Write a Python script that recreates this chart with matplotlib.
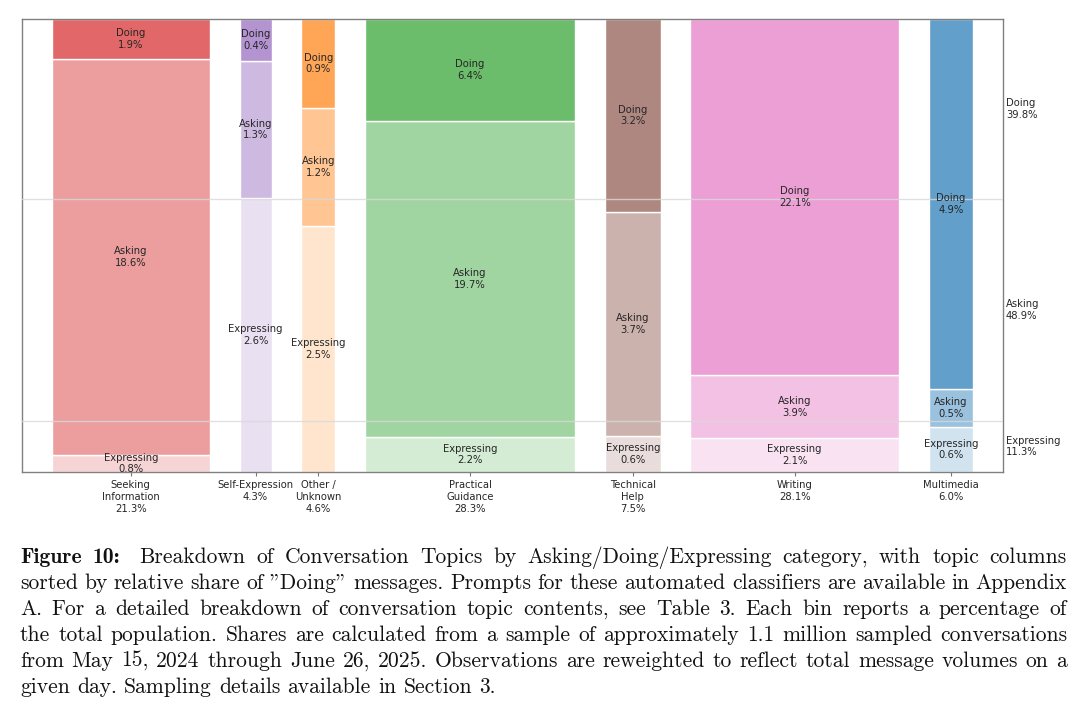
import matplotlib
matplotlib.use('Agg')
import matplotlib.pyplot as plt
from matplotlib.colors import to_rgba

# column order = sorted by relative share of "Doing"
topics = ['Seeking\nInformation', 'Self-Expression', 'Other /\nUnknown',
          'Practical\nGuidance', 'Technical\nHelp', 'Writing', 'Multimedia']
colors = ['tab:red', 'tab:purple', 'tab:orange', 'tab:green',
          'tab:brown', 'tab:pink', 'tab:blue']

# share of the total population (%), per bin
expressing = [0.8, 2.6, 2.5, 2.2, 0.6, 2.1, 0.6]
asking = [18.6, 1.3, 1.2, 19.7, 3.7, 3.9, 0.5]
doing = [1.9, 0.4, 0.9, 6.4, 3.2, 22.1, 4.9]
totals = [21.3, 4.3, 4.6, 28.3, 7.5, 28.1, 6.0]

overall_labels = ['Expressing', 'Asking', 'Doing']
overall_shares = [11.3, 48.9, 39.8]

caption_lines = [
    'Figure 10: Breakdown of Conversation Topics by Asking/Doing/Expressing category, with topic columns',
    'sorted by relative share of "Doing" messages. Prompts for these automated classifiers are available in Appendix',
    'A. For a detailed breakdown of conversation topic contents, see Table 3. Each bin reports a percentage of',
    'the total population. Shares are calculated from a sample of approximately 1.1 million sampled conversations',
    'from May 15, 2024 through June 26, 2025. Observations are reweighted to reflect total message volumes on a',
    'given day. Sampling details available in Section 3.',
]

W, H = 1080, 710
fig = plt.figure(figsize=(W / 100, H / 100), dpi=100)
ax = fig.add_axes([22 / W, 1 - 472 / H, (1003 - 22) / W, (472 - 19) / H])

gap = 4.0
txt_color = '#262626'
x = gap
centers = []
for i in range(len(topics)):
    w = totals[i]
    col = sum([expressing[i], asking[i], doing[i]])
    bottom = 0
    for vals, alpha, name in [(expressing, 0.2, 'Expressing'),
                              (asking, 0.45, 'Asking'),
                              (doing, 0.7, 'Doing')]:
        h = vals[i] / col
        ax.bar(x, h, width=w, bottom=bottom, align='edge',
               color=to_rgba(colors[i], alpha), edgecolor='white', linewidth=1, zorder=2)
        ax.text(x + w / 2, bottom + h / 2, f'{name}\n{vals[i]:.1f}%',
                ha='center', va='center', fontsize=7.2, color=txt_color, zorder=4)
        bottom += h
    centers.append(x + w / 2)
    x += w + gap

ax.set_xlim(0, x)
ax.set_ylim(0, 1)

# overall split lines and labels on the right
level = 0
for name, share in zip(overall_labels, overall_shares):
    mid = level + share / 200
    ax.text(1.003, mid, f'{name}\n{share:.1f}%', transform=ax.get_yaxis_transform(),
            ha='left', va='center', fontsize=7.2, color=txt_color)
    level += share / 100
    if level < 0.999:
        ax.axhline(level, color='#d9d9d9', linewidth=1, alpha=0.8, zorder=3)

ax.set_xticks(centers)
ax.set_xticklabels([f'{t}\n{s:.1f}%' for t, s in zip(topics, totals)],
                   fontsize=7.2, color=txt_color)
ax.set_yticks([])
ax.tick_params(axis='x', length=3, color='#777777', pad=3)
for sp in ax.spines.values():
    sp.set_color('#808080')
    sp.set_linewidth(1)

# caption, justified word by word
fig.canvas.draw()
renderer = fig.canvas.get_renderer()
x_left, x_right = 20, 1067
fs = 15.5
em = fs * 100 / 72
for i, line in enumerate(caption_lines):
    y = 1 - (563 + 26 * i) / H
    words = line.split(' ')
    texts = []
    for j, wd in enumerate(words):
        fam = 'cmb10' if (i == 0 and j < 2) else 'cmr10'
        texts.append(fig.text(0, y, wd, fontsize=fs, family=fam, va='baseline', color='#111111'))
    widths = [t.get_window_extent(renderer).width for t in texts]
    extra = 0.4 * em if i == 0 else 0
    if i == len(caption_lines) - 1:
        space = 0.333 * em
    else:
        space = (x_right - x_left - sum(widths) - extra) / (len(words) - 1)
    xp = x_left
    for j, (t, wd) in enumerate(zip(texts, widths)):
        t.set_x(xp / W)
        xp += wd + space + (extra if (i == 0 and j == 1) else 0)

fig.savefig('out.png', dpi=100, facecolor='white')
